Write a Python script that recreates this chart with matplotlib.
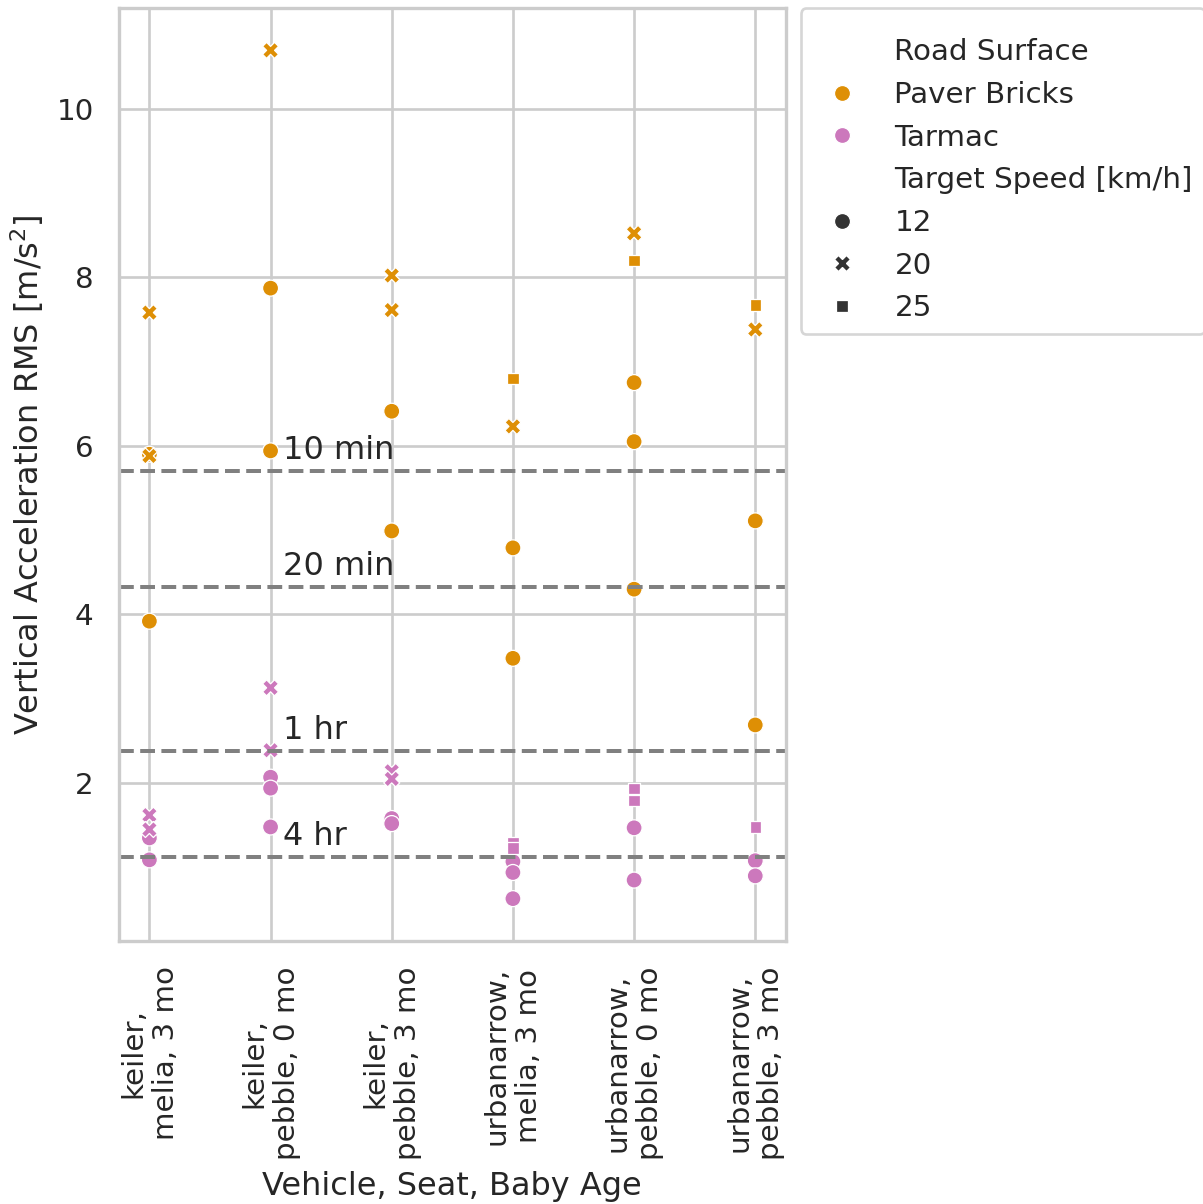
import numpy as np
import pandas as pd
import matplotlib
matplotlib.use("Agg")
import matplotlib.pyplot as plt
import seaborn as sns

categories = [
    "keiler,\nmelia, 3 mo",
    "keiler,\npebble, 0 mo",
    "keiler,\npebble, 3 mo",
    "urbanarrow,\nmelia, 3 mo",
    "urbanarrow,\npebble, 0 mo",
    "urbanarrow,\npebble, 3 mo",
]

# (category index, surface, target speed, rms value)
paver_cat = [0, 0, 0, 0, 1, 1, 1, 2, 2, 2, 2, 3, 3, 3, 3, 4, 4, 4, 4, 4, 5, 5, 5, 5]
paver_speed = [12, 12, 20, 20, 12, 12, 20, 12, 12, 20, 20, 12, 12, 20, 25,
               12, 12, 12, 20, 25, 12, 12, 20, 25]
paver_rms = [5.90, 3.92, 7.58, 5.88, 7.87, 5.94, 10.69, 6.41, 4.99, 8.02, 7.61,
             4.79, 3.48, 6.23, 6.80, 6.75, 6.05, 4.30, 8.52, 8.20, 5.11, 2.69, 7.38, 7.67]

tarmac_cat = [0, 0, 0, 0, 1, 1, 1, 1, 1, 2, 2, 2, 2, 3, 3, 3, 3, 3, 4, 4, 4, 4, 5, 5, 5]
tarmac_speed = [12, 12, 20, 20, 12, 12, 12, 20, 20, 12, 12, 20, 20, 12, 12, 12, 25, 25,
                12, 12, 25, 25, 12, 12, 25]
tarmac_rms = [1.35, 1.09, 1.62, 1.45, 2.07, 1.94, 1.48, 3.13, 2.39, 1.58, 1.52, 2.14, 2.05,
              1.07, 0.94, 0.63, 1.29, 1.23, 1.47, 0.85, 1.94, 1.79, 1.08, 0.90, 1.48]

# comfort exposure limits
limit_values = [5.70, 4.32, 2.38, 1.12]
limit_labels = ["10 min", "20 min", "1 hr", "4 hr"]

df = pd.DataFrame({
    "Vehicle, Seat, Baby Age": [categories[i] for i in paver_cat + tarmac_cat],
    "Road Surface": ["Paver Bricks"] * len(paver_rms) + ["Tarmac"] * len(tarmac_rms),
    "Target Speed [km/h]": paver_speed + tarmac_speed,
    "rms": paver_rms + tarmac_rms,
})
df["Vehicle, Seat, Baby Age"] = pd.Categorical(df["Vehicle, Seat, Baby Age"], categories=categories)

sns.set_theme(style="whitegrid")
colors = sns.color_palette("colorblind")

dpi = 192
fig, ax = plt.subplots(figsize=(1203 / dpi, 1204 / dpi), dpi=dpi)
fig.subplots_adjust(left=0.099, right=0.653, top=0.9934, bottom=0.2184)

sns.scatterplot(
    data=df,
    x="Vehicle, Seat, Baby Age",
    y="rms",
    hue="Road Surface",
    style="Target Speed [km/h]",
    palette=[colors[1], colors[4]],
    ax=ax,
)

for val, lab in zip(limit_values, limit_labels):
    ax.axhline(val, color="gray", linestyle="--", linewidth=1.5)
    ax.text(1.1, val + 0.06, lab, va="bottom", ha="left", fontsize=12)

ax.set_ylabel("Vertical Acceleration RMS [m/s$^2$]")
ax.tick_params(axis="x", rotation=90)
ax.set_xlim(-0.25, 5.25)
ax.legend(loc="upper left", bbox_to_anchor=(1.0225, 1.0), borderaxespad=0,
          title=" ", title_fontsize=1)

fig.savefig("out.png", dpi=dpi)
